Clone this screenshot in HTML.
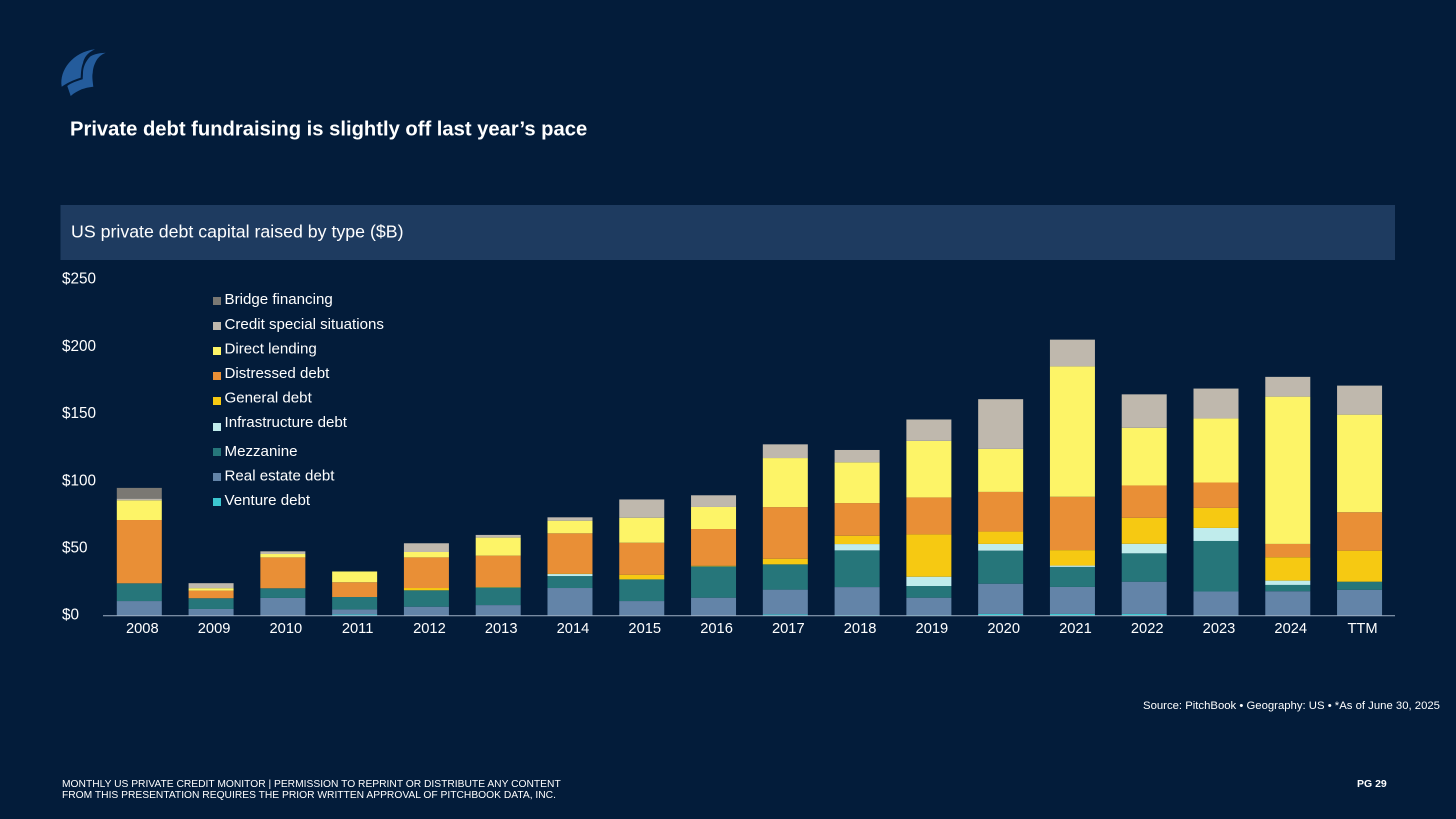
<!DOCTYPE html>
<html lang="en">
<head>
<meta charset="utf-8">
<title>Private debt fundraising</title>
<style>
html,body{margin:0;padding:0;background:#031c3a;width:1456px;height:819px;overflow:hidden}
svg{display:block;font-family:"Liberation Sans",Arial,sans-serif}
text{fill:#fff}
</style>
</head>
<body>
<svg id="slide" width="1456" height="819" viewBox="0 0 1456 819" xmlns="http://www.w3.org/2000/svg">
  <rect width="1456" height="819" fill="#031c3a"/>
  <g fill="#245c9c">
    <path d="M61.700 86.700 C59 70 73 52 95 49.300 C87 53 84 58 83 63 C81 68 81 73 80.700 77.700 C73 80 67 83 61.700 86.700Z"/>
    <path d="M105.700 52.700 C97 53 92 55 90 56.700 C85 62 83 68 83 73 L82.700 79.300 C77 81 71 83 67.300 86 L70.700 96 C74 93 78 91 81.700 89.300 C85 88 90 87 93.300 86.700 C92.500 80 92 76 92.700 73 C93 67 95 63 96.700 60 C98.500 57 102 54 105.700 52.700Z"/>
  </g>
  <text x="70" y="135.500" font-size="20.200" font-weight="700">Private debt fundraising is slightly off last year’s pace</text>
  <rect x="60.500" y="205" width="1334.500" height="55" fill="#1e3b60"/>
  <text x="71" y="237.500" font-size="17.750">US private debt capital raised by type ($B)</text>
  <g id="chart"></g>
  <g id="legend"></g>
  <text x="1440" y="709" font-size="11.340" text-anchor="end">Source: PitchBook • Geography: US • *As of June 30, 2025</text>
  <text x="62" y="787" font-size="10.270">MONTHLY US PRIVATE CREDIT MONITOR | PERMISSION TO REPRINT OR DISTRIBUTE ANY CONTENT</text>
  <text x="62" y="798" font-size="10.270">FROM THIS PRESENTATION REQUIRES THE PRIOR WRITTEN APPROVAL OF PITCHBOOK DATA, INC.</text>
  <text x="1357" y="787" font-size="10.500" font-weight="700">PG 29</text>
</svg>
<script>
const categories = ['2008','2009','2010','2011','2012','2013','2014','2015','2016','2017','2018','2019','2020','2021','2022','2023','2024','TTM'];
const yTicks = [0,50,100,150,200,250];
const tickLabels = ['$0','$50','$100','$150','$200','$250'];
const seriesNames = ['Venture debt','Real estate debt','Mezzanine','Infrastructure debt','General debt','Distressed debt','Direct lending','Credit special situations','Bridge financing'];
const seriesColors = ['#3cc7d0','#6384a8','#26767a','#c0ecec','#f6c912','#e98f36','#fdf467','#bfb8ad','#7a7873'];
const ventureDebt = [0,0,0,1,0,0.3,0,0.3,0,1,0.5,0.4,1.3,1.3,1.3,0.4,0,0];
const realEstateDebt = [10.9,5,13.2,3.7,6.7,7.6,20.6,10.6,13.4,18.4,20.8,13,22.5,20.1,24,17.6,18.2,19.3];
const mezzanine = [13.2,8,7.2,9.2,12.2,13.1,8.9,16.1,23.3,18.8,27.3,8.7,24.6,14.9,21.1,37.6,4.7,6];
const infrastructureDebt = [0,0,0,0,0,0,1.5,0,0,0,4.7,6.9,5,1,7.1,9.7,3.2,0];
const generalDebt = [0,0,0,0,1.7,0.3,0.3,3.5,0.5,4.2,6.2,31.5,9.2,11.5,19.3,14.9,17.4,23.1];
const distressedDebt = [47.1,5.7,23,11,22.8,23.4,30,23.8,27.3,38.4,24.3,27.5,29.5,39.7,24.1,18.9,9.9,28.6];
const directLending = [14.7,1.8,2.5,8,4,13.4,9.4,18.6,16.4,36.5,30.3,42.1,32,97,42.9,47.6,109.6,72.6];
const creditSpecialSituations = [1.2,3.7,2,0,6.5,2,2.5,13.6,8.7,10.2,9.2,15.9,37,19.9,24.9,22.3,14.7,21.6];
const bridgeFinancing = [8,0,0,0,0,0,0,0,0,0,0,0,0,0,0,0,0,0];
const seriesValues = [ventureDebt,realEstateDebt,mezzanine,infrastructureDebt,generalDebt,distressedDebt,directLending,creditSpecialSituations,bridgeFinancing];
const legendOrder = ['Bridge financing','Credit special situations','Direct lending','Distressed debt','General debt','Infrastructure debt','Mezzanine','Real estate debt','Venture debt'];

const NS = 'http://www.w3.org/2000/svg';
const baseY = 615.700, pxPerUnit = 1.344, firstX = 139.300, stepX = 71.780, barW = 45;
const yScale = v => baseY - v * pxPerUnit;
const xScale = i => firstX + i * stepX;
const chart = document.getElementById('chart');
const legend = document.getElementById('legend');
function slug(s){ return s.toLowerCase().replace(/[^a-z0-9]+/g,'-'); }
function make(tag, attrs, parent, txt){
  const n = document.createElementNS(NS, tag);
  for (const k in attrs) n.setAttribute(k, attrs[k]);
  if (txt !== undefined) n.textContent = txt;
  parent.appendChild(n);
  return n;
}
categories.forEach((c, i) => {
  let acc = 0;
  seriesValues.forEach((vals, s) => {
    const v = vals[i];
    if (!v) return;
    const top = yScale(acc + v), bot = yScale(acc);
    const el = make('rect', {x: xScale(i) - barW / 2, y: top, width: barW, height: bot - top, fill: seriesColors[s]}, chart);
    
    
    acc += v;
  });
  const lab = make('text', {x: xScale(i) + 3, y: 633, 'font-size': 14.700, 'text-anchor': 'middle'}, chart, c);
  
  
});
yTicks.forEach((t, i) => {
  const lab = make('text', {x: 62, y: yScale(t) + 4, 'font-size': 15.300}, chart, tickLabels[i]);
  
  
});
const axis = make('line', {x1: 103, x2: 1395, y1: baseY, y2: baseY, stroke: '#9fb0c4', 'stroke-width': 1}, chart);



const legendTextY = [304, 329, 353.500, 378, 402.500, 427, 456, 480.500, 505];
const legendKeyY = [297, 322, 347, 372, 397, 423, 448, 473, 498];
legendOrder.forEach((name, i) => {
  const s = seriesNames.indexOf(name);
  const key = make('rect', {x: 213, y: legendKeyY[i], width: 8, height: 8, fill: seriesColors[s]}, legend);
  
  
  const t = make('text', {x: 224.500, y: legendTextY[i], 'font-size': 15.100}, legend, name);
  
  
});
</script>
</body>
</html>
